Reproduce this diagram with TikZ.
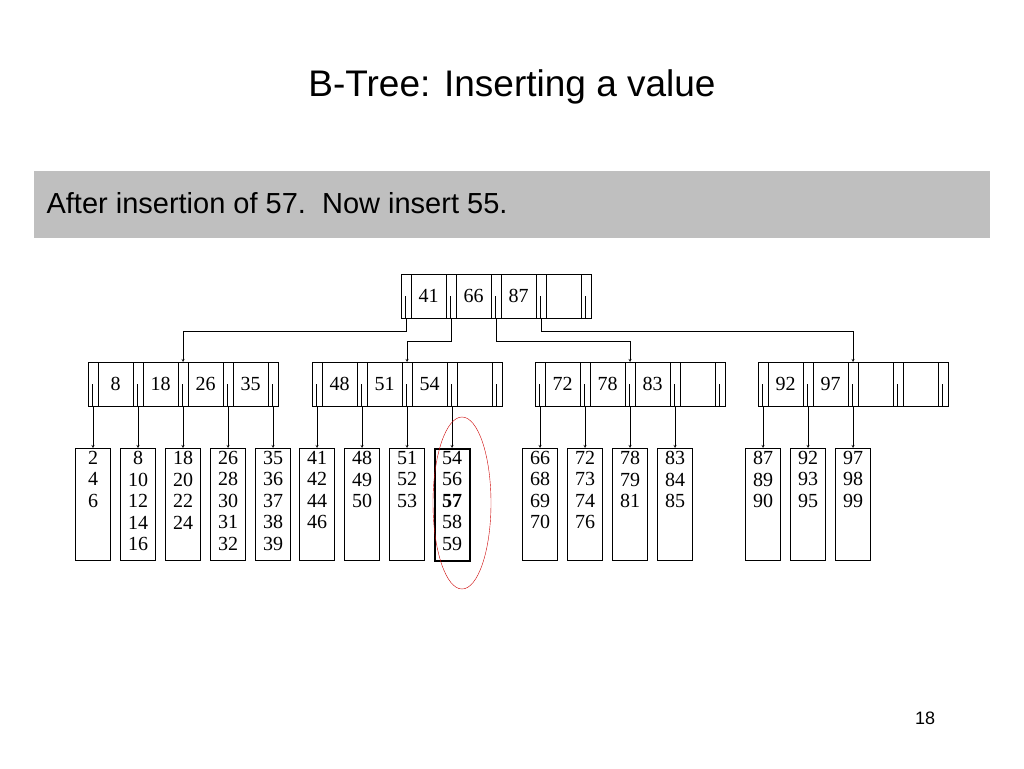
\documentclass[tikz,border=0pt]{standalone}
\usepackage{fontspec}
\setmainfont{Liberation Serif}
\setsansfont{Liberation Sans}
\usetikzlibrary{calc,positioning}

% one B-tree node: name, left x, top y, four keys
\newcommand{\btnode}[4]{%
	\draw (#2,#3) rectangle ++(190,44);
	\foreach \k [count=\i] in {#4} {
		\pgfmathsetmacro{\sx}{#2+(\i-1)*45}
		\draw (\sx+10,#3) -- ++(0,44);
		\draw (\sx+45,#3) -- ++(0,44);
		\node[key] at (\sx+27.5,#3+22) {\k};
		\draw (\sx+4,#3+22) -- ++(0,22);
		\coordinate (#1-p\i) at (\sx+5,#3+44);
		\coordinate (#1-t\i) at (\sx+5,#3);
	}
	\draw (#2+180,#3) -- ++(0,44);
	\draw (#2+184,#3+22) -- ++(0,22);
	\coordinate (#1-p5) at (#2+185,#3+44);
}

\begin{document}
\begin{tikzpicture}[x=1pt,y=-1pt,>=stealth,
	key/.style={font=\fontsize{20}{20}\selectfont},
	leaf/.style={draw,minimum width=35pt,minimum height=112pt,anchor=north,inner sep=0pt},
	leaftext/.style={align=center,anchor=north,inner sep=0pt,font=\fontsize{20}{21.5}\selectfont}]
	\useasboundingbox (0,0) rectangle (1024,768);

	% title and banner
	\node[font=\sffamily\fontsize{37}{37}\selectfont] (title) at (512,87) {B-Tree: Inserting a value};
	\fill[black!25] (34,171) rectangle (990,238);
	\node[font=\sffamily\fontsize{29}{29}\selectfont,anchor=west] (banner) at (43,203) {After insertion of 57.\ \ Now insert 55.};

	% inner nodes
	\btnode{r}{401}{274}{41,66,87,{}}
	\btnode{na}{88}{362}{8,18,26,35}
	\btnode{nb}{312}{362}{48,51,54,{}}
	\btnode{nc}{535}{362}{72,78,83,{}}
	\btnode{nd}{758}{362}{92,97,{},{}}

	% root pointers
	\draw[->] (r-p1) -- ++(0,13) -| (na-t3);
	\draw[->] (r-p2) -- ++(0,23) -| (nb-t3);
	\draw[->] (r-p3) -- ++(0,23) -| (nc-t3);
	\draw[->] (r-p4) -- ++(0,13) -| (nd-t3);

	% leaves
	\foreach \nm/\x/\keys in {la1/na-p1/{2\\4\\6},la2/na-p2/{8\\10\\12\\14\\16},la3/na-p3/{18\\20\\22\\24},
		la4/na-p4/{26\\28\\30\\31\\32},la5/na-p5/{35\\36\\37\\38\\39},
		lb1/nb-p1/{41\\42\\44\\46},lb2/nb-p2/{48\\49\\50},lb3/nb-p3/{51\\52\\53},
		lc1/nc-p1/{66\\68\\69\\70},lc2/nc-p2/{72\\73\\74\\76},lc3/nc-p3/{78\\79\\81},lc4/nc-p4/{83\\84\\85},
		ld1/nd-p1/{87\\89\\90},ld2/nd-p2/{92\\93\\95},ld3/nd-p3/{97\\98\\99}} {
		\node[leaf] (\nm) at ($(\x)+(0,42)$) {};
		\node[leaftext] at ($(\nm.north)+(0,3)$) {\keys};
		\draw[->] (\x) -- (\nm.north);
	}
	\node[leaf,line width=2pt] (lb4) at ($(nb-p4)+(0,42)$) {};
	\node[leaftext] at ($(lb4.north)+(0,3)$) {54\\56\\\textbf{57}\\58\\59};
	\draw[->] (nb-p4) -- (lb4.north);

	% highlight
	\draw[red!80!black] (462,503) ellipse [x radius=29,y radius=86];

	\node[font=\sffamily\fontsize{18}{18}\selectfont] (page) at (925,718) {18};
\end{tikzpicture}
\end{document}
